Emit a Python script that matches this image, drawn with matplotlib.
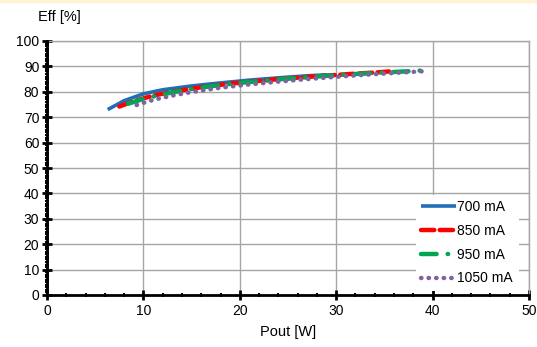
import matplotlib
matplotlib.use("Agg")
import matplotlib.pyplot as plt
from matplotlib.ticker import MultipleLocator
from matplotlib.patches import Rectangle

plt.rcParams['font.family'] = ['Liberation Sans', 'DejaVu Sans']

x700 = [6.3, 8, 10, 12, 15, 18, 21, 24, 27, 29]
y700 = [73.0, 76.5, 79.2, 80.8, 82.3, 83.5, 84.6, 85.5, 86.3, 86.7]
x850 = [7.5, 9, 11, 13, 16, 19, 22, 25, 28, 31, 34, 35.5]
y850 = [74.2, 76.3, 78.5, 80.0, 81.8, 83.2, 84.3, 85.3, 86.1, 86.9, 87.6, 88.0]
x950 = [8.4, 10, 12, 14, 17, 20, 23, 26, 29, 32, 35, 38, 39.5]
y950 = [75.3, 77.2, 79.0, 80.5, 82.2, 83.5, 84.6, 85.5, 86.3, 87.0, 87.6, 88.2, 88.5]
x1050 = [9.3, 11, 13, 15, 18, 21, 24, 27, 30, 33, 36, 39.5]
y1050 = [74.8, 76.8, 78.5, 79.9, 81.6, 82.9, 84.0, 85.0, 85.9, 86.7, 87.4, 88.2]
labels = ["700 mA", "850 mA", "950 mA", "1050 mA"]
xticks = [0, 10, 20, 30, 40, 50]
yticks = list(range(0, 101, 10))

fig = plt.figure(figsize=(5.37, 3.47), dpi=100)
fig.patches.append(Rectangle((0, 1 - 2/347), 1, 2/347, transform=fig.transFigure,
                             color='#fff3d4', zorder=0))
ax = fig.add_axes([47/537, 1 - 295/347, 482/537, 254/347])

ax.plot(x700, y700, color='#1f6eb7', lw=2.6, solid_capstyle='butt', label=labels[0])
ax.plot(x850, y850, color='#ff0000', lw=3.2, dashes=(3, 1.2), dash_capstyle='round', label=labels[1])
ax.plot(x950, y950, color='#00a651', lw=3.2, dashes=(3.5, 2.5, 0.1, 2.5), dash_capstyle='round', label=labels[2])
ax.plot(x1050, y1050, color='#8064a2', lw=3.2, dashes=(0.1, 1.6), dash_capstyle='round', label=labels[3])

ax.set_xlim(0, 50)
ax.set_ylim(0, 100)
ax.set_xticks(xticks)
ax.set_yticks(yticks)
ax.xaxis.set_minor_locator(MultipleLocator(2))
ax.yaxis.set_minor_locator(MultipleLocator(1))
ax.grid(True, which='major', color='#a6a6a6', lw=1)
ax.set_axisbelow(True)

for s in ['top', 'right']:
    ax.spines[s].set_color('#a6a6a6')
    ax.spines[s].set_linewidth(1)
for s in ['left', 'bottom']:
    ax.spines[s].set_color('black')
    ax.spines[s].set_linewidth(2)
    ax.spines[s].set_zorder(5)

ax.tick_params(which='major', direction='inout', length=7, width=2, labelsize=10, colors='black', pad=2)
ax.tick_params(which='minor', direction='inout', length=3, width=1.5)
ax.tick_params(axis='x', pad=3)

ax.set_xlabel('Pout [W]', fontsize=10.5, labelpad=5)
fig.text(38/537, 1 - 17/347, 'Eff [%]', fontsize=10.5, va='center', ha='left')

leg = ax.legend(loc='lower right', frameon=True, fontsize=10, handlelength=2.5,
                handletextpad=0.1, labelspacing=0.7, borderaxespad=0.4,
                bbox_to_anchor=(0.99, -0.006))
leg.get_frame().set_edgecolor('none')
leg.get_frame().set_facecolor('white')
leg.get_frame().set_alpha(1)

fig.savefig('out.png', dpi=100)
